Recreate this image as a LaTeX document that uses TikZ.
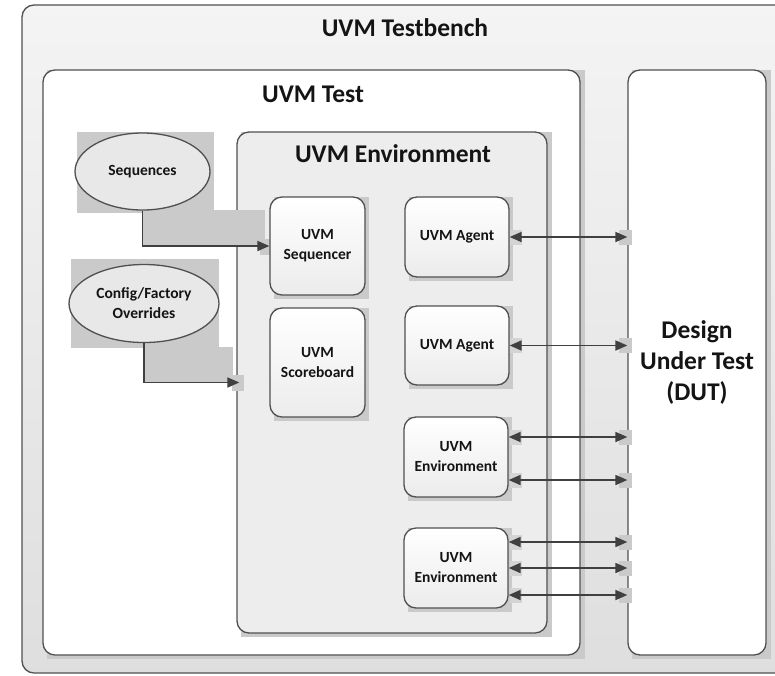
\documentclass[tikz,border=0pt]{standalone}
\usepackage{fontspec}
\setmainfont{Carlito}
\usetikzlibrary{arrows.meta,shapes.geometric}
\definecolor{edge}{HTML}{505050}
\definecolor{shadowgray}{HTML}{CACACA}
\definecolor{benchfill}{HTML}{EFEFEF}
\definecolor{envfill}{HTML}{EDEDED}
\definecolor{ovalfill}{HTML}{E8E8E8}
\definecolor{ink}{HTML}{141414}
\definecolor{wire}{HTML}{404040}
\tikzset{
  bigtitle/.style={font=\bfseries\fontsize{25.5}{31}\selectfont, text=ink, inner sep=0pt},
  frame/.style={draw=edge, line width=1.3pt, rounded corners=12pt, inner sep=0pt},
  unit/.style={frame, top color=white, bottom color=ovalfill!85!white,
    align=center, text=ink, font=\bfseries\fontsize{15.5}{20}\selectfont},
  oval/.style={ellipse, draw=edge, line width=1.3pt, fill=ovalfill, inner sep=0pt,
    align=center, text=ink, font=\bfseries\fontsize{15.5}{20}\selectfont},
  plate/.style={fill=shadowgray},
  softplate/.style={fill=shadowgray!70!envfill},
  conn/.style={draw=wire, line width=1.8pt, -{Triangle[length=12pt,width=10pt]}},
  bidir/.style={draw=wire, line width=1.8pt,
    {Triangle[length=12pt,width=10pt]}-{Triangle[length=12pt,width=10pt]}},
}
\begin{document}
\begin{tikzpicture}[x=1pt,y=-1pt]
\clip (0,0) rectangle (775,675);
\fill[white] (0,0) rectangle (775,675);

% testbench frame
\node[frame, top color=benchfill!70!white, bottom color=benchfill!85!gray,
      minimum width=768pt, minimum height=668pt] (tb) at (406,339) {};
\node[bigtitle] (tbtitle) at (405,28) {UVM Testbench};

% test frame and DUT
\fill[plate] (47,70) rectangle (585,659);
\node[frame, fill=white, minimum width=537pt, minimum height=585pt] (test) at (311.5,362.5) {};
\node[bigtitle] (testtitle) at (313,94) {UVM Test};

\fill[plate] (632,70) rectangle (771,659);
\node[frame, fill=white, minimum width=138pt, minimum height=585pt,
      bigtitle, align=center] (dut) at (697,362.5) {Design\\Under Test\\(DUT)};

% environment
\fill[plate] (241,132) rectangle (552,637);
\node[frame, fill=envfill, minimum width=310pt, minimum height=501pt] (env) at (392,382.5) {};
\node[bigtitle] (envtitle) at (393,154) {UVM Environment};

% stimulus ovals with their backing plates
\fill[plate] (77,132) rectangle (214,213);
\fill[plate] (143,210) rectangle (265,245);
\fill[plate] (260,239) rectangle (273,255);
\node[oval, minimum width=135pt, minimum height=77pt] (seq) at (142.5,171.5) {Sequences};

\fill[plate] (71,259) rectangle (219,348);
\fill[plate] (143,347) rectangle (233,382);
\fill[plate] (232,375) rectangle (244,391);
\node[oval, minimum width=150pt, minimum height=78pt] (cfg) at (144,303.5) {Config/Factory\\Overrides};

% components
\fill[plate] (274,197) rectangle (369,299);
\node[unit, minimum width=95pt, minimum height=98pt] (seqr) at (317.5,246) {UVM\\Sequencer};
\fill[plate] (274,308) rectangle (369,421);
\node[unit, minimum width=95pt, minimum height=109pt] (sb) at (317.5,362.5) {UVM\\Scoreboard};

\fill[plate] (409,197) rectangle (513,281);
\node[unit, minimum width=104pt, minimum height=80pt] (ag1) at (457,237) {UVM Agent};
\fill[plate] (409,306) rectangle (513,389);
\node[unit, minimum width=104pt, minimum height=79pt] (ag2) at (457,345.5) {UVM Agent};
\fill[plate] (408,417) rectangle (512,501);
\node[unit, minimum width=104pt, minimum height=80pt] (env1) at (456,457) {UVM\\Environment};
\fill[plate] (408,528) rectangle (512,612);
\node[unit, minimum width=104pt, minimum height=80pt] (env2) at (456,568) {UVM\\Environment};

% connection plates at both ends of each link
\foreach \yy in {237,345,437,480,542,568,595} {
  \fill[plate] (619,\yy-7) rectangle (632,\yy+8);
  \fill[softplate] (510,\yy-7) rectangle (522,\yy+8);
}

% connectors
\draw[conn] (seq.south) |- (seqr.west);
\draw[conn] (cfg.south) |- ([xshift=3pt]env.west);

\draw[bidir] (ag1.east) -- (ag1.east -| dut.west);
\draw[bidir] (ag2.east) -- (ag2.east -| dut.west);
\draw[bidir] (env1.east |- 0,437) -- (dut.west |- 0,437);
\draw[bidir] (env1.east |- 0,480) -- (dut.west |- 0,480);
\draw[bidir] (env2.east |- 0,542) -- (dut.west |- 0,542);
\draw[bidir] (env2.east |- 0,568) -- (dut.west |- 0,568);
\draw[bidir] (env2.east |- 0,595) -- (dut.west |- 0,595);
\end{tikzpicture}
\end{document}
